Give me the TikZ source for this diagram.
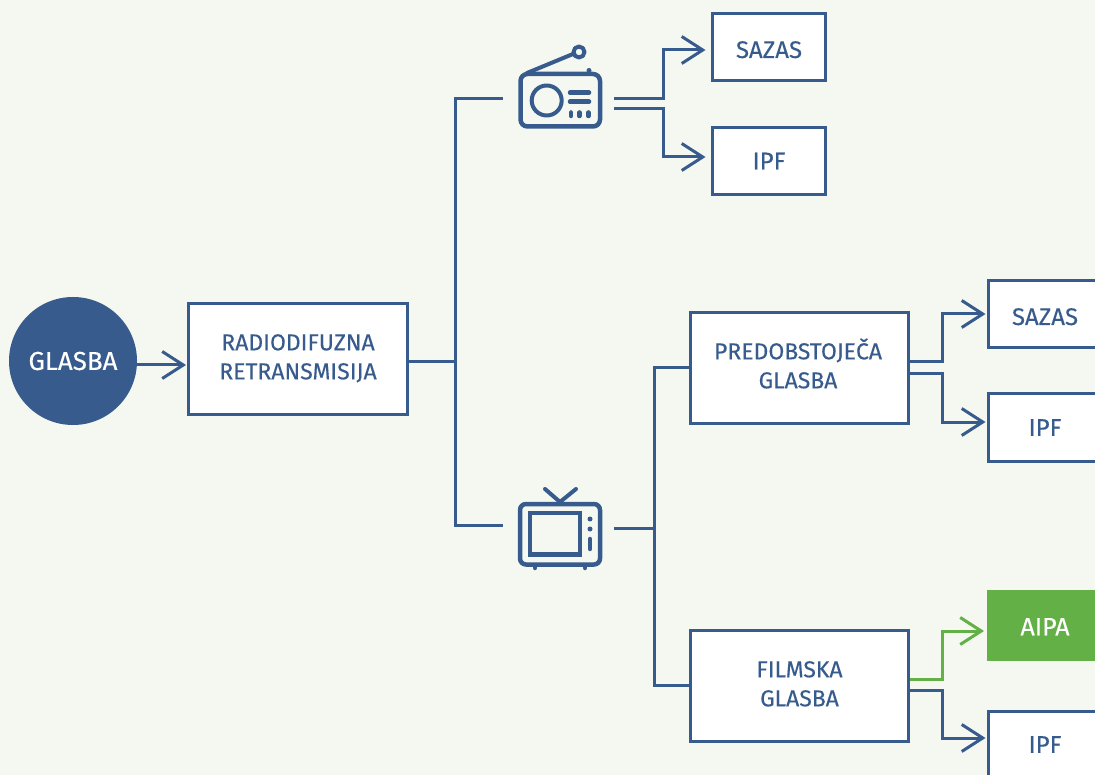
\documentclass[tikz,border=0pt]{standalone}
\usepackage{fontspec}
\newfontfamily\labf[FakeBold=0.25]{Fira Sans}
\usetikzlibrary{arrows.meta}
\definecolor{bluec}{HTML}{375B8C}
\definecolor{greenc}{HTML}{62B046}
\definecolor{bgc}{HTML}{F4F8F1}
\newcommand\shifted[2]{\raisebox{#1}{\begin{tabular}{@{}c@{}}#2\end{tabular}}}
\tikzset{
  wire/.style={draw=bluec,line width=3pt,line join=miter},
  arr/.style={wire,-{Straight Barb[length=21pt,width=27pt,line width=3pt]}},
  garr/.style={arr,draw=greenc},
  boxA/.style={draw=bluec,fill=white,line width=3pt,text=bluec,font=\labf\fontsize{23}{29}\selectfont,align=center,inner sep=0pt,anchor=center},
  smallbox/.style={boxA,minimum width=113pt,minimum height=67pt,font=\labf\fontsize{24}{29}\selectfont},
  bigbox/.style={boxA,minimum width=218pt,minimum height=111pt},
  ico/.style={draw=bluec,line width=4.5pt,line cap=round,line join=round},
  icothin/.style={ico,line width=4pt},
}
\begin{document}
\begin{tikzpicture}[x=1pt,y=-1pt]
\clip (0,0) rectangle (1095,775);
\fill[bgc] (0,0) rectangle (1095,775);
% nodes
\node[circle,fill=bluec,text=white,minimum size=128pt,inner sep=0pt,font=\labf\fontsize{26}{29}\selectfont] (glasba) at (73,361) {GLASBA};
\node[bigbox,minimum width=219pt] (retr) at (298,359) {\shifted{0pt}{RADIODIFUZNA\\RETRANSMISIJA}};
\node[smallbox] (sazasA) at (769,47.5) {\raisebox{0pt}[21pt][0pt]{SAZAS}};
\node[smallbox] (ipfA) at (769,161) {IPF};
\node[bigbox] (pred) at (799.5,368) {\hspace*{-3pt}\shifted{2pt}{PREDOBSTOJE\smash{Č}A\\GLASBA}};
\node[bigbox] (film) at (799.5,686) {\shifted{1pt}{FILMSKA\\GLASBA}};
\node[smallbox] (sazasB) at (1045,314.5) {\raisebox{0pt}[21pt][0pt]{SAZAS}};
\node[smallbox] (ipfB) at (1045,427.5) {IPF};
\node[boxA,draw=none,fill=greenc,text=white,minimum width=116pt,minimum height=71pt,font=\labf\fontsize{25}{29}\selectfont] (aipa) at (1045,625.5) {\raisebox{0pt}[19.5pt][0pt]{AIPA}};
\node[smallbox] (ipfC) at (1045,744.5) {IPF};
% icon anchors
\coordinate (radioIn) at (503,98.5);
\coordinate (radioOutA) at (614,98.5);
\coordinate (radioOutB) at (614,109);
\coordinate (tvIn) at (503,525);
\coordinate (tvOut) at (614,528);
\coordinate (juncA) at (455,362);
\coordinate (juncB) at (654,528);
\coordinate (busA) at (663,98.5);
\coordinate (busB) at (663,109);
\coordinate (busC) at (942,362);
\coordinate (busD) at (942,374);
\coordinate (busE) at (942,679);
\coordinate (busF) at (942,690);
% radio icon
\draw[ico,rounded corners=7pt] (520.5,74) rectangle (600,126.5);
\draw[icothin] (527,73) -- (573,54);
\draw[icothin] (579,52) circle (5.5);
\draw[icothin] (546.7,100.5) circle (15);
\draw[ico] (570,92.7) -- (589,92.7) (570,101.7) -- (589,101.7);
\draw[ico] (571,112.5) -- (571,116) (579.5,112.5) -- (579.5,116) (588.5,112.5) -- (588.5,116);
\fill[bluec] (589,70.5) circle (2.5);
% tv icon
\draw[ico,rounded corners=6pt] (520,504) rectangle (600,564.5);
\draw[ico,line cap=butt,line join=miter] (530,513) rectangle (580,554.5);
\draw[icothin] (545,489) -- (560,502) -- (576,489);
\fill[bluec] (590,519) circle (2.5) (590,529) circle (2.5);
\draw[ico] (590,539) -- (590,549);
\draw[ico] (535,566) -- (535,568) (585,566) -- (585,568);
% connectors
\draw[arr] ([shift={(0,4)}]glasba.east) -- ([shift={(-1,6)}]retr.west);
\draw[wire] ([shift={(0,3)}]retr.east) -- (juncA);
\draw[wire] (radioIn) -| (juncA) |- (tvIn);
\draw[arr] (radioOutA) -- (busA) |- ([shift={(-5.5,2.5)}]sazasA.west);
\draw[arr] (radioOutB) -- (busB) |- ([shift={(-5.5,-4)}]ipfA.west);
\draw[wire] (tvOut) -- (juncB);
\draw[wire] (pred.west) -| (juncB) |- ([shift={(0,-1)}]film.west);
\draw[arr] ([shift={(0,-6)}]pred.east) -- (busC) |- ([shift={(-1.5,-0.5)}]sazasB.west);
\draw[arr] ([shift={(0,6)}]pred.east) -- (busD) |- ([shift={(-1.5,-5.5)}]ipfB.west);
\draw[garr] ([shift={(0,-7)}]film.east) -- (busE) |- ([shift={(-1.5,5.5)}]aipa.west);
\draw[arr] ([shift={(0,4)}]film.east) -- (busF) |- ([shift={(-1.5,-6.5)}]ipfC.west);
\end{tikzpicture}
\end{document}
